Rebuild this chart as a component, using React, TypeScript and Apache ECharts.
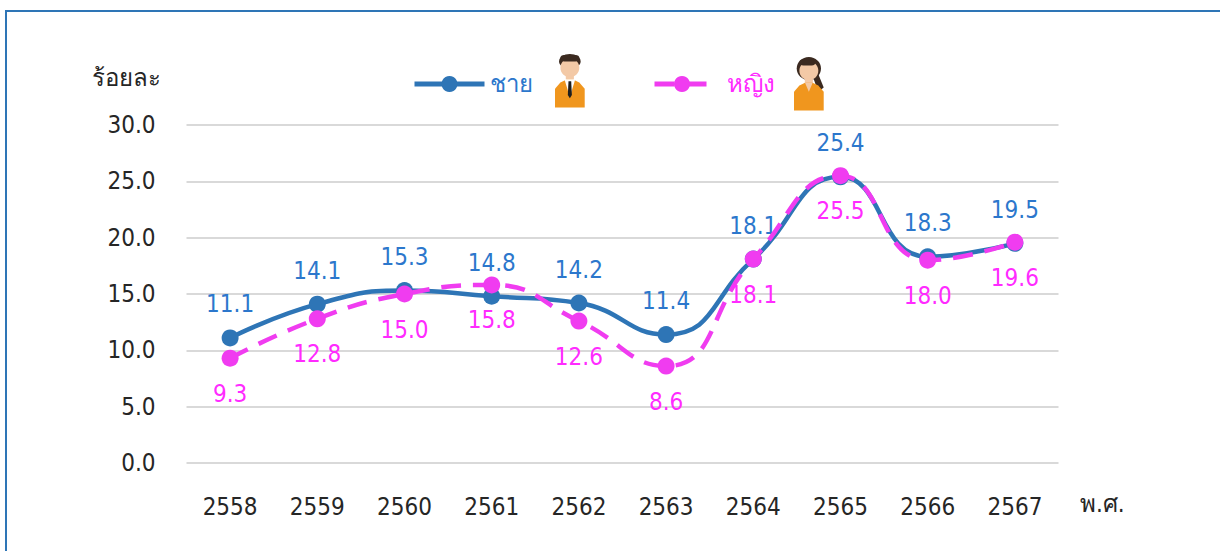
import { useEffect, useRef } from 'react';
import * as echarts from 'echarts';

const years = ['2558', '2559', '2560', '2561', '2562', '2563', '2564', '2565', '2566', '2567'];
const male = [11.1, 14.1, 15.3, 14.8, 14.2, 11.4, 18.1, 25.4, 18.3, 19.5];
const female = [9.3, 12.8, 15.0, 15.8, 12.6, 8.6, 18.1, 25.5, 18.0, 19.6];

const FONT = "'DejaVu Sans Condensed', Tahoma, 'Noto Sans', sans-serif";
const BLUE = '#2E75B6';
const BLUE_TEXT = '#2C77CC';
const PINK = '#F03CF0';
const PINK_TEXT = '#FF2BFF';

// simple person icon: head + hair + orange jacket
function person(x: number, y: number, female: boolean) {
  const skin = '#F3C9A6';
  const hair = '#3B2A20';
  const suit = '#F0961E';
  const children: any[] = [];
  if (female) {
    children.push({ type: 'ellipse', shape: { cx: 11, cy: 12, rx: 9, ry: 11 }, style: { fill: hair } });
    children.push({ type: 'polygon', shape: { points: [[17, 14], [22, 30], [18, 34], [14, 20]] }, style: { fill: hair } });
  } else {
    children.push({ type: 'ellipse', shape: { cx: 11, cy: 8, rx: 8, ry: 7 }, style: { fill: hair } });
  }
  children.push({ type: 'ellipse', shape: { cx: 11, cy: 14, rx: 7, ry: 9 }, style: { fill: skin } });
  if (!female) {
    children.push({ type: 'rect', shape: { x: 4, y: 2, width: 14, height: 6, r: 3 }, style: { fill: hair } });
  } else {
    children.push({ type: 'rect', shape: { x: 4, y: 3, width: 12, height: 6, r: 3 }, style: { fill: hair } });
  }
  children.push({ type: 'rect', shape: { x: 8, y: 21, width: 6, height: 6 }, style: { fill: skin } });
  children.push({
    type: 'polygon',
    shape: { points: [[0, 52], [0, 34], [4, 28], [9, 25], [13, 25], [18, 28], [22, 34], [22, 52]] },
    style: { fill: suit },
  });
  if (female) {
    children.push({ type: 'polygon', shape: { points: [[8, 25], [14, 25], [11, 34]] }, style: { fill: skin } });
  } else {
    children.push({ type: 'polygon', shape: { points: [[7, 25], [15, 25], [11, 42]] }, style: { fill: '#FFFFFF' } });
    children.push({ type: 'polygon', shape: { points: [[10, 27], [12, 27], [12.5, 40], [11, 43], [9.5, 40]] }, style: { fill: '#1E1E1E' } });
  }
  return { type: 'group', x, y, scaleX: 1.35, scaleY: 1.05, children };
}

export default function App() {
  const ref = useRef<HTMLDivElement>(null);

  useEffect(() => {
    if (!ref.current) return;
    document.body.style.margin = '0';
    const chart = echarts.init(ref.current, undefined, { renderer: 'svg' });

    chart.setOption({
      animation: false,
      textStyle: { fontFamily: FONT },
      grid: { left: 186.5, right: 161.5, top: 125, bottom: 88 },
      legend: [
        {
          left: 407,
          top: 67,
          data: ['ชาย'],
          itemWidth: 70,
          itemHeight: 20,
          lineStyle: { width: 5 },
          textStyle: { color: BLUE_TEXT, fontSize: 24, fontFamily: FONT },
        },
        {
          left: 647,
          top: 67,
          data: ['หญิง'],
          itemWidth: 55,
          itemHeight: 20,
          lineStyle: { width: 5 },
          textStyle: { color: PINK_TEXT, fontSize: 24, fontFamily: FONT, padding: [0, 0, 0, 12] },
        },
      ],
      xAxis: {
        type: 'category',
        data: years,
        boundaryGap: true,
        axisLine: { show: false },
        axisTick: { show: false },
        axisLabel: { color: '#262626', fontSize: 24, margin: 32, fontFamily: FONT },
      },
      yAxis: {
        type: 'value',
        min: 0,
        max: 30,
        interval: 5,
        axisLine: { show: false },
        axisTick: { show: false },
        axisLabel: {
          color: '#262626',
          fontSize: 24,
          margin: 31,
          fontFamily: FONT,
          formatter: (v: number) => v.toFixed(1),
        },
        splitLine: { lineStyle: { color: '#D9D9D9', width: 2 } },
      },
      series: [
        {
          name: 'ชาย',
          type: 'line',
          data: male,
          smooth: 0.5,
          symbol: 'circle',
          symbolSize: 17,
          z: 3,
          lineStyle: { color: BLUE, width: 4.5 },
          itemStyle: { color: BLUE },
          label: {
            show: true,
            position: 'top',
            distance: 13,
            color: BLUE_TEXT,
            fontSize: 24,
            fontFamily: FONT,
            formatter: (p: any) => Number(p.value).toFixed(1),
          },
        },
        {
          name: 'หญิง',
          type: 'line',
          data: female,
          smooth: 0.5,
          symbol: 'circle',
          symbolSize: 17,
          z: 4,
          lineStyle: { color: PINK, width: 4.5, type: [20, 12] },
          itemStyle: { color: PINK },
          label: {
            show: true,
            position: 'bottom',
            distance: 15,
            color: PINK_TEXT,
            fontSize: 24,
            fontFamily: FONT,
            formatter: (p: any) => Number(p.value).toFixed(1),
          },
        },
      ],
      graphic: [
        {
          type: 'rect',
          shape: { x: 6, y: 11, width: 1240, height: 600 },
          style: { fill: 'none', stroke: BLUE, lineWidth: 2 },
          silent: true,
        },
        {
          type: 'text',
          left: 92,
          top: 66,
          style: { text: 'ร้อยละ', fontSize: 24, fontFamily: FONT, fill: '#262626' },
        },
        {
          type: 'text',
          left: 1080,
          top: 492,
          style: { text: 'พ.ศ.', fontSize: 24, fontFamily: FONT, fill: '#262626' },
        },
        person(555, 53, false),
        person(794, 56, true),
      ],
    });

    return () => chart.dispose();
  }, []);

  return <div ref={ref} style={{ width: 1220, height: 551 }} />;
}
